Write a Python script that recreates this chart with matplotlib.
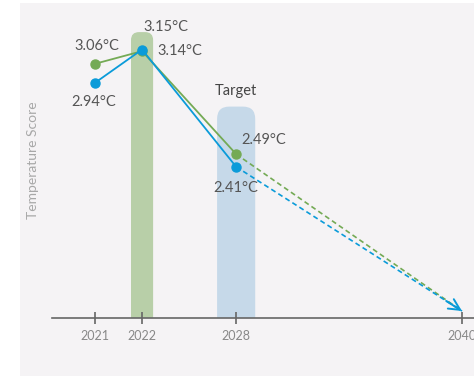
import matplotlib
matplotlib.use('Agg')
import matplotlib.pyplot as plt
from matplotlib.patches import FancyBboxPatch, Rectangle

plt.rcParams['font.family'] = ['Lato', 'DejaVu Sans']

# datos
years = ['2021', '2022', '2028', '2040']
x_pos = [0, 1, 3, 7.8]          # espaciado del eje (no lineal en años)
blue_vals = [2.94, 3.15, 2.41]
green_vals = [3.06, 3.14, 2.49]
end_val = 1.5                    # destino 2040
band_years = ['2022', '2028']
band_tops = [3.26, 2.79]

blue = '#0a9bd9'
green = '#74aa55'

fig = plt.figure(figsize=(4.74, 3.76), dpi=100, facecolor='white')
fig.patches.append(Rectangle((20 / 474, 0), 1, 1 - 3 / 376, transform=fig.transFigure,
                             facecolor='#f5f3f5', edgecolor='none', zorder=-10))

ax = fig.add_axes([52 / 474, (376 - 318) / 376, 1 - 52 / 474, (318 - 5) / 376])
ax.set_facecolor('none')
ax.set_xlim(-0.914, 8.055)
ax.set_ylim(1.456, 3.431)

# barras de fondo con esquinas redondeadas
xpx = ax.get_position().width * 474 / (8.055 + 0.914)
ypx = ax.get_position().height * 376 / (3.431 - 1.456)
aspect = xpx / ypx
for yr, top, w, col, r in zip(band_years, band_tops, [0.47, 0.81],
                              ['#b8cfa8', '#c6d9e9'], [0.17, 0.26]):
    x = x_pos[years.index(yr)]
    bar = FancyBboxPatch((x - w / 2, 1.2), w, top - 1.2,
                         boxstyle=f'round,pad=0,rounding_size={r}',
                         mutation_aspect=aspect,
                         facecolor=col, edgecolor='none', zorder=1)
    ax.add_patch(bar)

# líneas
ax.plot(x_pos[:3], green_vals, color=green, lw=1.3, marker='o', ms=6.5, zorder=3)
ax.plot(x_pos[:3], blue_vals, color=blue, lw=1.3, marker='o', ms=6.5, zorder=4)
ax.plot([x_pos[2], x_pos[3]], [green_vals[2], end_val], color=green, lw=1.2,
        ls=(0, (3, 2)), zorder=2)
ax.plot([x_pos[2], x_pos[3]], [blue_vals[2], end_val], color=blue, lw=1.2,
        ls=(0, (3, 2)), zorder=2)
t = 0.93
ax.annotate('', xy=(x_pos[3], end_val),
            xytext=(x_pos[2] + t * (x_pos[3] - x_pos[2]),
                    blue_vals[2] + t * (end_val - blue_vals[2])),
            arrowprops=dict(arrowstyle='->,head_length=0.8,head_width=0.4',
                            color=blue, lw=1.4, shrinkA=0, shrinkB=0), zorder=5)

# etiquetas
lab = dict(fontsize=10.5, color='#555555', textcoords='offset points')
ax.annotate(f'{blue_vals[1]:.2f}°C', (x_pos[1], blue_vals[1]), xytext=(17, 16),
            ha='center', va='center', **lab)
ax.annotate(f'{green_vals[1]:.2f}°C', (x_pos[1], green_vals[1]), xytext=(11, 0),
            ha='left', va='center', **lab)
ax.annotate(f'{green_vals[0]:.2f}°C', (x_pos[0], green_vals[0]), xytext=(1, 13),
            ha='center', va='center', **lab)
ax.annotate(f'{blue_vals[0]:.2f}°C', (x_pos[0], blue_vals[0]), xytext=(-1, -14),
            ha='center', va='center', **lab)
ax.annotate(f'{green_vals[2]:.2f}°C', (x_pos[2], green_vals[2]), xytext=(4, 10),
            ha='left', va='center', **lab)
ax.annotate(f'{blue_vals[2]:.2f}°C', (x_pos[2], blue_vals[2]), xytext=(0, -15),
            ha='center', va='center', **lab)
ax.annotate('Target', (x_pos[2], band_tops[1]), xytext=(0, 11),
            textcoords='offset points', ha='center', va='center',
            fontsize=10.5, color='#444444')

fig.text(33 / 474, 1 - 160 / 376, 'Temperature Score', rotation=90,
         ha='center', va='center', fontsize=10, color='#a8a8a8')

# ejes
ax.set_xticks(x_pos)
ax.set_xticklabels(years)
ax.set_yticks([])
for s in ['top', 'right', 'left']:
    ax.spines[s].set_visible(False)
ax.spines['bottom'].set_color('#666666')
ax.spines['bottom'].set_linewidth(1.2)
ax.spines['bottom'].set_zorder(6)
ax.tick_params(axis='x', direction='inout', length=8, width=1.2, color='#666666',
               labelcolor='#888888', labelsize=9, pad=5)

fig.savefig('out.png', dpi=100, facecolor='white')
